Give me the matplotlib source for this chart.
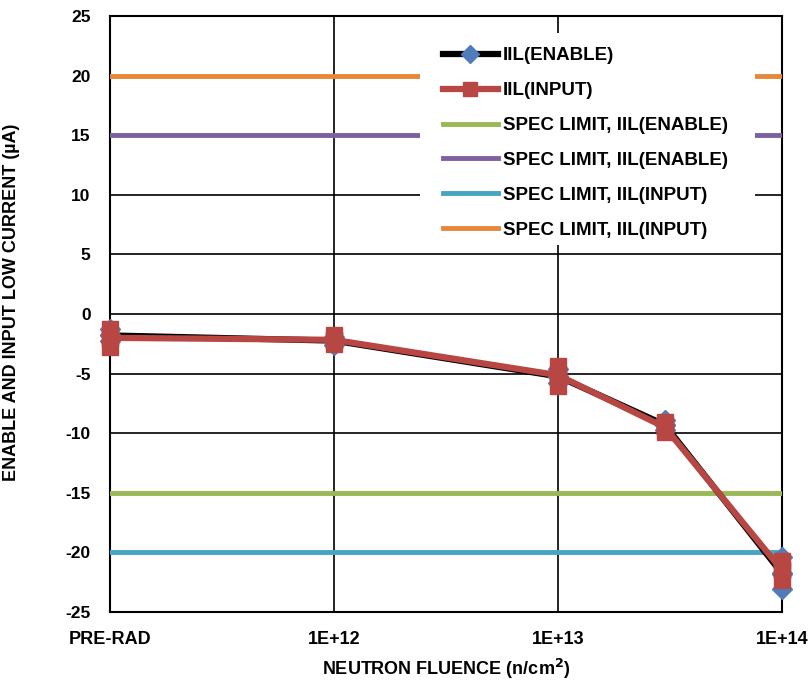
import numpy as np
import matplotlib
matplotlib.use("Agg")
import matplotlib.pyplot as plt
from matplotlib.patches import Rectangle

plt.rcParams['font.family'] = ['Liberation Sans', 'DejaVu Sans']
plt.rcParams['font.weight'] = 'bold'
plt.rcParams['axes.unicode_minus'] = False

# Fluence positions (PRE-RAD plotted at 1E+11)
fluence = [1e11, 1e12, 1e13, 3e13, 1e14]
tick_pos = [1e11, 1e12, 1e13, 1e14]
tick_labels = ['PRE-RAD', '1E+12', '1E+13', '1E+14']

# Per-unit readings at each fluence (uA)
iil_enable = [[-1.3, -1.8, -2.3],
              [-1.9, -2.2, -2.6],
              [-4.6, -5.3, -5.8],
              [-8.9, -9.3, -9.7],
              [-20.4, -21.8, -23.1]]
iil_input = [[-1.3, -1.9, -2.8],
             [-1.8, -2.2, -2.5],
             [-4.4, -5.0, -6.0],
             [-9.1, -9.5, -9.9],
             [-20.7, -21.5, -22.3]]

spec_enable_low = -15
spec_enable_high = 15
spec_input_low = -20
spec_input_high = 20

fig = plt.figure(figsize=(8.08, 6.83), dpi=100)
ax = fig.add_axes([110/808, 1-612/683, 672/808, 596/683])

ax.set_xscale('log')
ax.set_xlim(1e11, 1e14)
ax.set_ylim(-25, 25)

ax.grid(True, which='major', color='black', linewidth=1.2, zorder=0)
ax.set_axisbelow(True)

xl = [1e11, 1e14]
c_green = '#98B954'
c_purple = '#7D60A0'
c_teal = '#46A5C2'
c_orange = '#E8873A'
c_blue = '#4F7DBA'
c_red = '#B84744'

l_en, = ax.plot(fluence, [np.mean(v) for v in iil_enable], color='black', lw=4.5,
                marker='D', markersize=10, markerfacecolor=c_blue,
                markeredgecolor=c_blue, zorder=4, clip_on=False)
for x, vals in zip(fluence, iil_enable):
    ax.plot([x]*len(vals), vals, ls='none', marker='D', markersize=10,
            color=c_blue, zorder=4, clip_on=False)

l_in, = ax.plot(fluence, [np.mean(v) for v in iil_input], color=c_red, lw=4.5,
                marker='s', markersize=11, markerfacecolor=c_red,
                markeredgecolor=c_red, zorder=5, clip_on=False)
for x, vals in zip(fluence, iil_input):
    ax.plot([x]*len(vals), vals, ls='none', marker='s', markersize=11,
            color=c_red, zorder=5, clip_on=False)

s1, = ax.plot(xl, [spec_enable_low]*2, color=c_green, lw=3.5, zorder=3)
s2, = ax.plot(xl, [spec_enable_high]*2, color=c_purple, lw=3.5, zorder=3)
s3, = ax.plot(xl, [spec_input_low]*2, color=c_teal, lw=3.5, zorder=3)
s4, = ax.plot(xl, [spec_input_high]*2, color=c_orange, lw=3.5, zorder=3)

ax.set_xticks(tick_pos)
ax.set_xticklabels(tick_labels)
ax.xaxis.set_minor_locator(matplotlib.ticker.NullLocator())
ax.set_yticks(np.arange(-25, 26, 5))
ax.tick_params(axis='x', length=0, labelsize=13, pad=14)
ax.tick_params(axis='y', length=0, labelsize=12.5, pad=14)
for lab in ax.get_xticklabels() + ax.get_yticklabels():
    lab.set_fontweight('bold')

for sp in ax.spines.values():
    sp.set_color('black')
    sp.set_linewidth(1.5)

ax.set_xlabel('NEUTRON FLUENCE (n/cm$^\\mathbf{2}$)', fontsize=13, fontweight='bold', labelpad=6)
ax.set_ylabel('ENABLE AND INPUT LOW CURRENT (µA)', fontsize=13, fontweight='bold')
ax.yaxis.set_label_coords(-0.134, 0.52)

# white legend background box
bg = Rectangle((0.461, 0.616), 0.960 - 0.461, 0.971 - 0.616, transform=ax.transAxes,
               facecolor='white', edgecolor='none', zorder=3.5)
ax.add_patch(bg)

leg = ax.legend([l_en, l_in, s1, s2, s3, s4],
                ['IIL(ENABLE)', 'IIL(INPUT)', 'SPEC LIMIT, IIL(ENABLE)',
                 'SPEC LIMIT, IIL(ENABLE)', 'SPEC LIMIT, IIL(INPUT)',
                 'SPEC LIMIT, IIL(INPUT)'],
                loc='upper left', bbox_to_anchor=(0.4955, 0.9475),
                frameon=False,
                prop={'size': 13.5, 'weight': 'bold'},
                handlelength=2.93, handletextpad=0.27, labelspacing=0.944,
                borderpad=0, borderaxespad=0, markerscale=0.95)
leg.set_zorder(6)

fig.savefig('out.png', dpi=100)
